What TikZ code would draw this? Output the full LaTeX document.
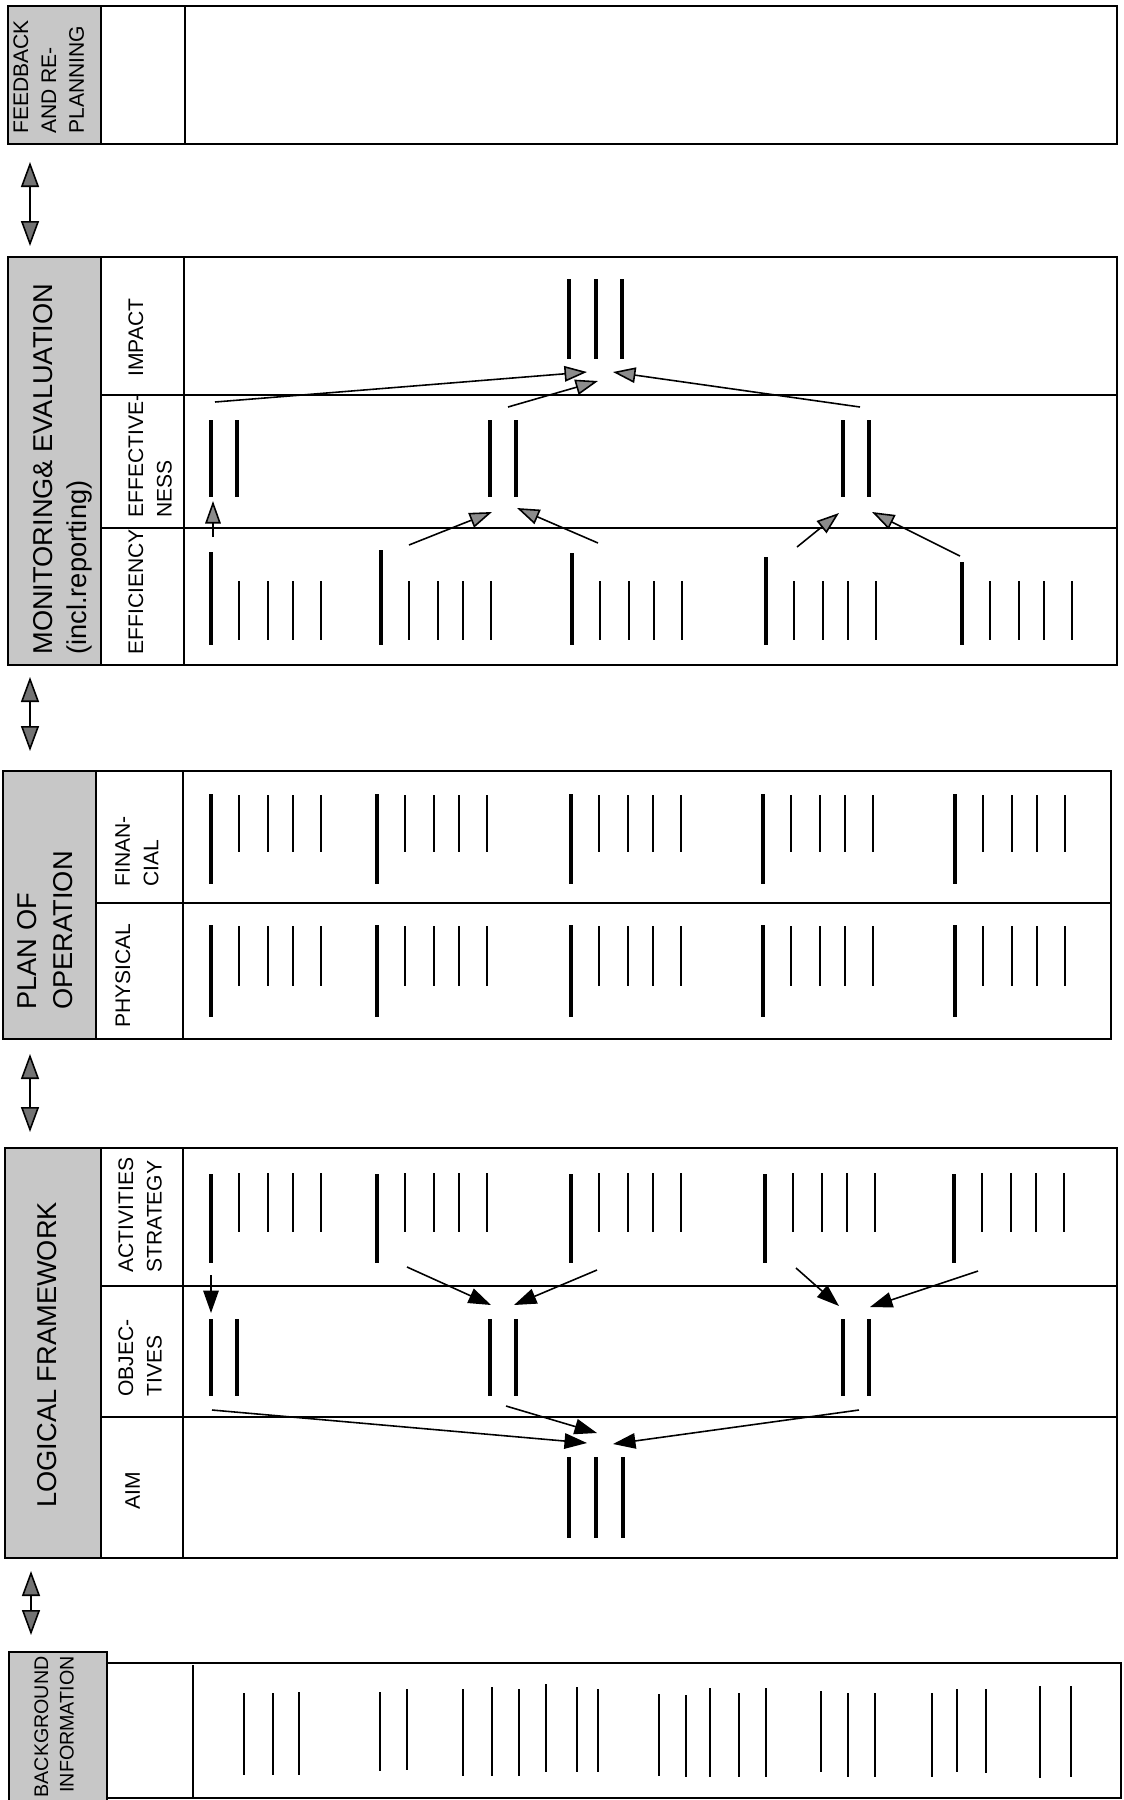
\documentclass[tikz,border=0pt]{standalone}
\usepackage{fontspec}
\setmainfont{Liberation Sans}
\usetikzlibrary{arrows.meta}

\begin{document}
\begin{tikzpicture}[x=0.02cm, y=-0.02cm,
    frame/.style={line width=1.1pt},
    divline/.style={line width=0.8pt},
    shade/.style={fill=black!22, line width=1.1pt},
    tallbar/.style={line width=2.2pt},
    shortbar/.style={line width=1.4pt},
    mainlabel/.style={rotate=90, anchor=north west, inner sep=0pt, align=left, font=\fontsize{15.5}{19.5}\selectfont},
    sublabel/.style={rotate=90, anchor=north west, inner sep=0pt, align=left, font=\fontsize{12}{16.2}\selectfont},
    linkarrow/.style={line width=0.9pt, {Triangle[length=0.5cm, width=0.36cm, fill=black!55]}-{Triangle[length=0.5cm, width=0.36cm, fill=black!55]}},
    evalarrow/.style={line width=0.9pt, -{Triangle[length=0.45cm, width=0.31cm, fill=black!45]}},
    lfarrow/.style={line width=0.9pt, -{Triangle[length=0.45cm, width=0.31cm, fill=black]}}]

    \useasboundingbox (0,0) rectangle (1124,1800);

    % Feedback and re-planning
    \draw[shade] (8,6) rectangle (101,144);
    \draw[frame] (101,6) rectangle (1117,144);
    \draw[divline] (185,6) -- (185,144);
    \node[mainlabel, font=\fontsize{12}{15.9}\selectfont] (feedback) at (13,134) {FEEDBACK\\AND RE-\\PLANNING};

    % Monitoring and evaluation
    \draw[shade] (8,257) rectangle (101,665);
    \draw[frame] (101,257) rectangle (1117,665);
    \draw[divline] (184,257) -- (184,665);
    \draw[divline] (101,395) -- (1117,395);
    \draw[divline] (101,528) -- (1117,528);
    \node[mainlabel] (monitoring) at (33,655) {MONITORING\& EVALUATION\\(incl.reporting)};
    \node[sublabel] (impact) at (128,377) {IMPACT};
    \node[sublabel] (effectiveness) at (128,518) {EFFECTIVE-\\NESS};
    \node[sublabel] (efficiency) at (128,655) {EFFICIENCY};

    % Plan of operation
    \draw[shade] (3,771) rectangle (96,1039);
    \draw[frame] (96,771) rectangle (1111,1039);
    \draw[divline] (183,771) -- (183,1039);
    \draw[divline] (96,903) -- (1111,903);
    \node[mainlabel, font=\fontsize{15.5}{20.4}\selectfont] (plan) at (17,1010) {PLAN OF\\OPERATION};
    \node[sublabel] (financial) at (115,887) {FINAN-\\CIAL};
    \node[sublabel] (physical) at (115,1028) {PHYSICAL};

    % Logical framework
    \draw[shade] (5,1148) rectangle (101,1558);
    \draw[frame] (101,1148) rectangle (1117,1558);
    \draw[divline] (183,1148) -- (183,1558);
    \draw[divline] (101,1286) -- (1117,1286);
    \draw[divline] (101,1417) -- (1117,1417);
    \node[mainlabel] (logframe) at (37,1508) {LOGICAL FRAMEWORK};
    \node[sublabel] (activities) at (118,1273) {ACTIVITIES\\STRATEGY};
    \node[sublabel] (objectives) at (118,1397) {OBJEC-\\TIVES};
    \node[sublabel] (aim) at (125,1510) {AIM};

    % Background information
    \draw[shade] (9,1652) rectangle (107,1812);
    \draw[frame] (107,1663) rectangle (1121,1798);
    \draw[divline] (193,1665) -- (193,1798);
    \node[rotate=90, anchor=north east, inner sep=0pt, align=right, font=\fontsize{11.2}{14.6}\selectfont] (background) at (34,1656) {BACKGROUND\\INFORMATION};

    % Links between the stages
    \coordinate (fbEnd) at (30,162);  \coordinate (meStart) at (30,246);
    \coordinate (meEnd) at (30,677);  \coordinate (poStart) at (30,751);
    \coordinate (poEnd) at (30,1054); \coordinate (lfStart) at (30,1132);
    \coordinate (lfEnd) at (31,1571); \coordinate (biStart) at (31,1635);
    \draw[linkarrow] (fbEnd) -- (meStart);
    \draw[linkarrow] (meEnd) -- (poStart);
    \draw[linkarrow] (poEnd) -- (lfStart);
    \draw[linkarrow] (lfEnd) -- (biStart);

    % Efficiency bars
    \foreach \g/\t in {211/552,381/550,572/553,766/557,962/562}{
        \draw[tallbar] (\g,\t) -- (\g,645);
        \foreach \d in {28,57,82,110}
            \draw[shortbar] (\g+\d,581) -- (\g+\d,640);
    }

    % Effectiveness and impact bars
    \foreach \g in {211,490,843}{
        \draw[tallbar] (\g,420) -- (\g,497);
        \draw[tallbar] (\g+26,420) -- (\g+26,497);
    }
    \foreach \x in {569,596,622}
        \draw[tallbar] (\x,279) -- (\x,359);

    % Monitoring arrows
    \coordinate (ef1) at (213,537); \coordinate (es1) at (213,501);
    \coordinate (ef2) at (409,545); \coordinate (es2) at (492,512);
    \coordinate (ef3) at (598,543); \coordinate (es3) at (517,508);
    \coordinate (ef4) at (797,547); \coordinate (es4) at (839,513);
    \coordinate (ef5) at (960,556); \coordinate (es5) at (872,512);
    \coordinate (eo1) at (215,402); \coordinate (im1) at (587,372);
    \coordinate (eo2) at (508,407); \coordinate (im2) at (598,381);
    \coordinate (eo3) at (860,407); \coordinate (im3) at (613,372);
    \foreach \i in {1,...,5}
        \draw[evalarrow] (ef\i) -- (es\i);
    \foreach \i in {1,2,3}
        \draw[evalarrow] (eo\i) -- (im\i);

    % Financial and physical bars
    \foreach \g in {211,377,571,763,955}{
        \draw[tallbar] (\g,794) -- (\g,884);
        \draw[tallbar] (\g,925) -- (\g,1017);
        \foreach \d in {28,57,82,110}{
            \draw[shortbar] (\g+\d,795) -- (\g+\d,852);
            \draw[shortbar] (\g+\d,926) -- (\g+\d,986);
        }
    }

    % Activities bars
    \foreach \g in {211,377,571,765,954}{
        \draw[tallbar] (\g,1174) -- (\g,1263);
        \foreach \d in {28,57,82,110}
            \draw[shortbar] (\g+\d,1173) -- (\g+\d,1232);
    }

    % Objectives and aim bars
    \foreach \g in {211,490,843}{
        \draw[tallbar] (\g,1319) -- (\g,1396);
        \draw[tallbar] (\g+26,1319) -- (\g+26,1396);
    }
    \foreach \x in {569,596,623}
        \draw[tallbar] (\x,1457) -- (\x,1538);

    % Logical framework arrows
    \coordinate (ac1) at (211,1275); \coordinate (ob1) at (211,1313);
    \coordinate (ac2) at (407,1267); \coordinate (ob2) at (491,1305);
    \coordinate (ac3) at (597,1270); \coordinate (ob3) at (514,1305);
    \coordinate (ac4) at (796,1268); \coordinate (ob4) at (839,1306);
    \coordinate (ac5) at (978,1271); \coordinate (ob5) at (870,1307);
    \coordinate (oa1) at (212,1410); \coordinate (am1) at (587,1443);
    \coordinate (oa2) at (506,1406); \coordinate (am2) at (597,1433);
    \coordinate (oa3) at (859,1410); \coordinate (am3) at (613,1444);
    \foreach \i in {1,...,5}
        \draw[lfarrow] (ac\i) -- (ob\i);
    \foreach \i in {1,2,3}
        \draw[lfarrow] (oa\i) -- (am\i);

    % Background bars
    \foreach \x/\a/\b in {244/1693/1775, 273/1693/1775, 299/1692/1775, 380/1692/1771,
        407/1689/1770, 463/1689/1776, 492/1687/1776, 519/1689/1776, 546/1684/1772,
        577/1687/1772, 598/1689/1772, 659/1694/1776, 686/1695/1777, 710/1688/1777,
        739/1693/1777, 766/1688/1777, 821/1691/1772, 848/1693/1777, 875/1693/1777,
        932/1693/1777, 957/1689/1772, 986/1689/1773, 1040/1686/1778, 1071/1686/1777}
        \draw[shortbar] (\x,\a) -- (\x,\b);
\end{tikzpicture}
\end{document}
